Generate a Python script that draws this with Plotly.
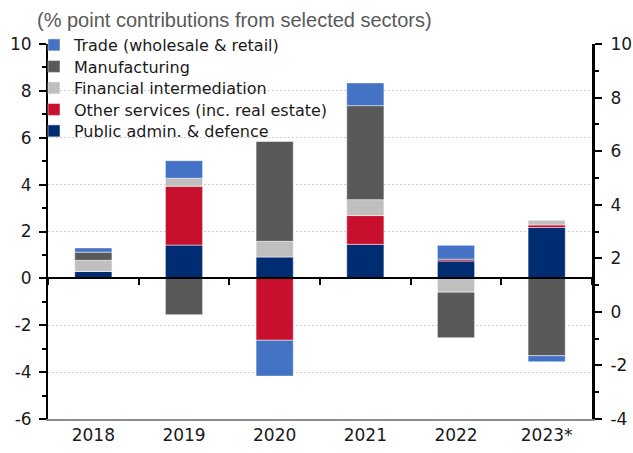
import plotly.graph_objects as go

years = ["2018", "2019", "2020", "2021", "2022", "2023*"]
public_admin = [0.30, 1.42, 0.91, 1.45, 0.74, 2.17]
other_services = [0.00, 2.51, -2.64, 1.23, 0.08, 0.11]
financial = [0.47, 0.34, 0.67, 0.68, -0.59, 0.20]
manufacturing = [0.35, -1.55, 4.26, 4.01, -1.94, -3.30]
trade = [0.18, 0.75, -1.53, 0.97, 0.59, -0.26]

left_ticks = [-6, -4, -2, 0, 2, 4, 6, 8, 10]
right_ticks = [-4, -2, 0, 2, 4, 6, 8, 10]

series = [
    ("Public admin. & defence", public_admin, "#002D72"),
    ("Other services (inc. real estate)", other_services, "#C8102E"),
    ("Financial intermediation", financial, "#BFBFBF"),
    ("Manufacturing", manufacturing, "#595959"),
    ("Trade (wholesale & retail)", trade, "#4472C4"),
]

FONT = "DejaVu Sans"
TFONT = "Liberation Sans"
W, H = 633, 453
ml, mr, mt, mb = 48, 41, 44, 34
pw, ph = W - ml - mr, H - mt - mb

# legend rows: top item is Trade (last series)
legend_centers_px = [131, 109.5, 88, 66.5, 45]  # for series in order above

fig = go.Figure()
legend_layout = {}
for i, (name, vals, col) in enumerate(series):
    lname = "legend" if i == 0 else f"legend{i + 1}"
    fig.add_trace(go.Bar(
        x=years, y=vals, name=name,
        marker=dict(color=col, line=dict(color="rgba(255,255,255,0.6)", width=0.8)),
        xaxis="x", yaxis="y", legend=lname,
    ))
    legend_layout[lname] = dict(
        x=-14 / pw, y=1 - (legend_centers_px[i] - mt) / ph,
        xanchor="left", yanchor="middle", bgcolor="rgba(0,0,0,0)",
        font=dict(family=FONT, size=16, color="#1a1a1a"),
        itemwidth=30,
    )

# helper invisible traces so the secondary axes render
fig.add_trace(go.Scatter(x=years, y=[0] * len(years), mode="markers",
                         marker=dict(opacity=0), showlegend=False, hoverinfo="skip",
                         xaxis="x", yaxis="y2"))
fig.add_trace(go.Scatter(x=years, y=[0] * len(years), mode="markers",
                         marker=dict(opacity=0), showlegend=False, hoverinfo="skip",
                         xaxis="x2", yaxis="y"))

minor_cfg = dict(dtick=1, tick0=0, ticks="outside", ticklen=4, tickwidth=1.5,
                 tickcolor="black", showgrid=False)

fig.update_layout(
    width=W, height=H,
    margin=dict(l=ml, r=mr, t=mt, b=mb),
    barmode="relative",
    bargap=0.59,
    plot_bgcolor="white", paper_bgcolor="white",
    font=dict(family=FONT, size=17, color="#1a1a1a"),
    xaxis=dict(
        categoryorder="array", categoryarray=years, range=[-0.5, 5.5],
        showline=True, linecolor="#8c8c8c", linewidth=2, automargin=False,
        ticks="", showgrid=False, tickfont=dict(family=FONT, size=17, color="#1a1a1a"),
    ),
    xaxis2=dict(
        overlaying="x", anchor="free", position=6 / 16, automargin=False,
        categoryorder="array", categoryarray=years, range=[-0.5, 5.5],
        showline=True, linecolor="black", linewidth=2,
        ticks="outside", tickson="boundaries", ticklen=6, tickwidth=2, tickcolor="black",
        showticklabels=False, showgrid=False, zeroline=False,
    ),
    yaxis=dict(
        range=[-6, 10], tickmode="array", tickvals=left_ticks,
        ticktext=[str(v) for v in left_ticks], automargin=False,
        showline=True, linecolor="black", linewidth=2,
        ticks="outside", ticklen=7, tickwidth=1.5, tickcolor="black",
        ticklabelstandoff=4,
        minor=minor_cfg,
        showgrid=True, gridcolor="#cdcdcd", griddash="2px,2px", gridwidth=1,
        zeroline=False, tickfont=dict(family=FONT, size=17, color="#1a1a1a"),
    ),
    yaxis2=dict(
        overlaying="y", side="right", range=[-4, 10], tickmode="array",
        tickvals=right_ticks, ticktext=[str(v) for v in right_ticks], automargin=False,
        showline=True, linecolor="black", linewidth=3,
        ticks="outside", ticklen=7, tickwidth=1.5, tickcolor="black",
        ticklabelstandoff=5,
        minor=minor_cfg,
        showgrid=False, zeroline=False, tickfont=dict(family=FONT, size=17, color="#1a1a1a"),
    ),
    annotations=[dict(
        text="(% point contributions from selected sectors)",
        xref="paper", yref="paper", x=-13 / pw, y=1 + 24 / ph,
        xanchor="left", yanchor="middle", showarrow=False,
        font=dict(family=TFONT, size=20, color="#595959"),
    )],
    **legend_layout,
)

fig.write_html("out.html")
